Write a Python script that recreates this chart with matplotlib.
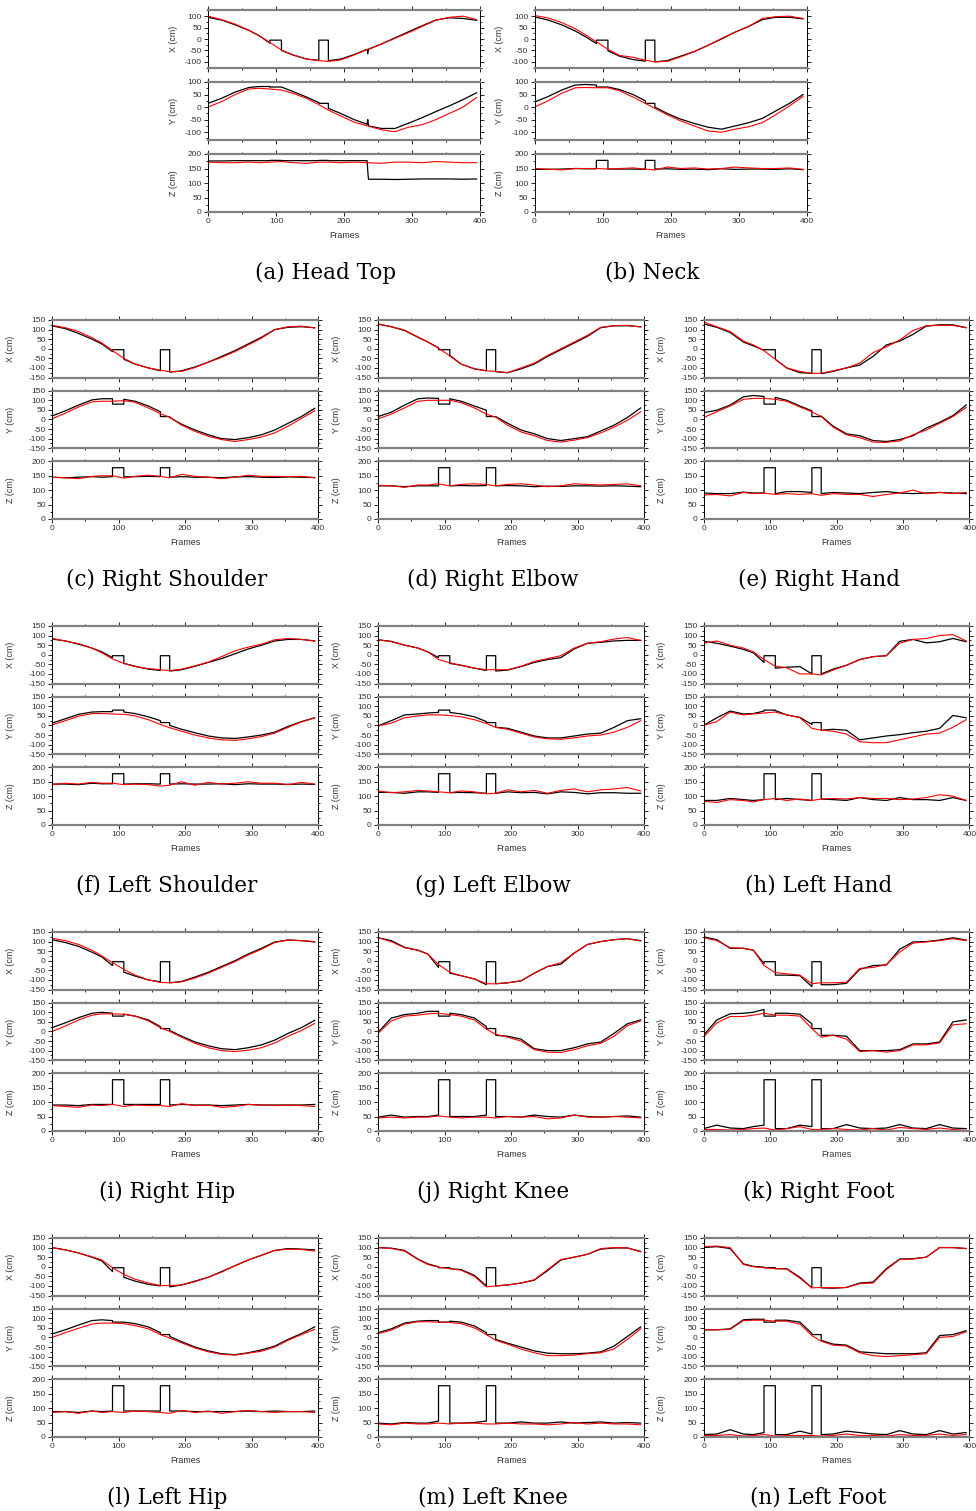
import matplotlib
matplotlib.use("Agg")
import matplotlib.pyplot as plt
from matplotlib.ticker import MultipleLocator

# 프레임 (샘플 지점) - 91~108, 163~177 은 가림(occlusion) 구간
frames = [0, 20, 40, 60, 75, 91, 108, 125, 145, 163, 177, 195, 215, 235, 255, 275, 295, 315, 335, 355, 375, 395]
# Head Top 정답(검정)은 235 근처에 튀는 값이 있어서 프레임을 따로 둠
head_top_gt_frames = [0, 20, 40, 60, 75, 91, 108, 125, 145, 163, 177, 195, 215, 234, 235, 236, 255, 275, 295, 315, 335, 355, 375, 395]

occ_start = [91, 163]
occ_end = [108, 177]
occ_x = [-5, -5]
occ_y = [80, 15]
occ_z = [178, 178]

# (a) Head Top
head_top_x_gt = [95, 83, 62, 38, 15, -18, -50, -70, -88, -93, -95, -88, -68, -45, -65, -45, -22, 5, 32, 58, 83, 93, 90, 82]
head_top_x_est = [100, 85, 65, 38, 15, -15, -48, -70, -88, -95, -98, -92, -70, -45, -22, 3, 28, 55, 82, 95, 100, 85]
head_top_y_gt = [15, 35, 60, 78, 82, 82, 80, 62, 40, 18, -5, -25, -50, -68, -50, -75, -85, -85, -64, -42, -18, 5, 30, 57]
head_top_y_est = [0, 22, 50, 72, 75, 72, 68, 55, 35, 10, -12, -35, -60, -75, -90, -98, -80, -70, -50, -25, 0, 38]
head_top_z_gt = [176, 176, 177, 177, 177, 177, 177, 177, 177, 177, 177, 177, 177, 177, 140, 113, 113, 112, 113, 114, 114, 114, 113, 114]
head_top_z_est = [172, 170, 170, 172, 170, 172, 174, 170, 168, 172, 172, 170, 172, 170, 168, 172, 172, 170, 174, 172, 170, 170]

# (b) Neck
neck_x_gt = [97, 83, 62, 35, 10, -20, -52, -75, -90, -97, -100, -95, -75, -55, -28, 0, 30, 55, 85, 95, 95, 88]
neck_x_est = [103, 92, 72, 45, 18, -12, -45, -72, -80, -93, -100, -98, -78, -55, -28, 2, 30, 55, 90, 98, 100, 90]
neck_y_gt = [20, 42, 68, 88, 90, 88, 80, 70, 50, 25, 0, -25, -48, -65, -80, -88, -75, -62, -45, -15, 15, 50]
neck_y_est = [0, 25, 55, 77, 78, 77, 77, 65, 40, 15, -5, -30, -55, -75, -95, -100, -88, -78, -62, -30, 5, 42]
neck_z_gt = [147, 147, 148, 150, 149, 149, 148, 148, 148, 147, 148, 149, 147, 148, 146, 149, 147, 148, 148, 147, 149, 146]
neck_z_est = [150, 148, 145, 150, 150, 150, 148, 150, 152, 148, 145, 155, 150, 152, 148, 150, 155, 152, 150, 150, 152, 147]

# (c) Right Shoulder
r_shoulder_x_gt = [120, 105, 80, 50, 25, -15, -55, -80, -100, -115, -122, -115, -95, -70, -40, -10, 25, 60, 100, 112, 115, 110]
r_shoulder_x_est = [122, 110, 90, 58, 30, -10, -50, -80, -100, -112, -120, -118, -98, -70, -45, -15, 20, 55, 100, 115, 118, 108]
r_shoulder_y_gt = [18, 45, 75, 102, 108, 108, 105, 95, 70, 40, 10, -25, -55, -80, -100, -105, -95, -80, -55, -20, 15, 58]
r_shoulder_y_est = [3, 33, 65, 92, 95, 95, 98, 90, 60, 30, 12, -30, -62, -88, -105, -115, -105, -92, -70, -35, 5, 45]
r_shoulder_z_gt = [145, 143, 145, 147, 145, 147, 146, 147, 148, 147, 145, 147, 145, 145, 143, 146, 147, 145, 144, 146, 145, 144]
r_shoulder_z_est = [145, 143, 140, 148, 150, 150, 142, 148, 152, 148, 143, 155, 148, 145, 140, 145, 152, 148, 148, 147, 148, 143]

# (d) Right Elbow
r_elbow_x_gt = [128, 115, 95, 60, 35, 5, -35, -80, -105, -115, -120, -125, -105, -80, -40, -5, 30, 65, 110, 120, 120, 115]
r_elbow_x_est = [130, 115, 97, 62, 35, 3, -38, -80, -105, -115, -118, -125, -100, -75, -35, 0, 35, 70, 112, 120, 122, 113]
r_elbow_y_gt = [15, 38, 75, 108, 112, 110, 108, 95, 70, 48, 15, -20, -55, -75, -100, -110, -100, -90, -60, -30, 10, 60]
r_elbow_y_est = [3, 28, 60, 95, 100, 100, 100, 88, 60, 28, 12, -30, -65, -85, -110, -118, -108, -95, -70, -40, -5, 40]
r_elbow_z_gt = [115, 115, 112, 115, 115, 115, 115, 116, 115, 116, 115, 116, 115, 112, 114, 113, 115, 115, 114, 115, 114, 112]
r_elbow_z_est = [117, 115, 110, 118, 118, 122, 115, 120, 122, 120, 115, 120, 122, 118, 112, 115, 122, 120, 118, 120, 122, 115]

# (e) Right Hand
r_hand_x_gt = [130, 112, 85, 35, 15, -8, -55, -100, -125, -128, -130, -118, -100, -85, -40, 20, 40, 75, 118, 125, 125, 110]
r_hand_x_est = [140, 115, 90, 40, 20, -10, -55, -100, -118, -128, -128, -115, -100, -75, -20, 10, 45, 95, 120, 122, 122, 110]
r_hand_y_gt = [35, 48, 75, 118, 125, 120, 115, 100, 70, 45, 18, -35, -75, -85, -110, -115, -105, -85, -45, -15, 20, 75]
r_hand_y_est = [10, 40, 70, 105, 110, 110, 105, 95, 65, 40, 15, -40, -80, -95, -118, -120, -112, -80, -55, -20, 15, 62]
r_hand_z_gt = [90, 88, 88, 93, 90, 90, 88, 95, 95, 92, 88, 92, 90, 88, 92, 95, 90, 88, 90, 92, 90, 88]
r_hand_z_est = [83, 85, 80, 92, 88, 90, 85, 88, 85, 88, 82, 88, 85, 85, 78, 85, 90, 100, 88, 92, 88, 92]

# (f) Left Shoulder
l_shoulder_x_gt = [82, 72, 55, 35, 15, -15, -45, -60, -75, -82, -85, -78, -60, -40, -20, 5, 30, 50, 72, 80, 80, 72]
l_shoulder_x_est = [85, 72, 58, 35, 10, -22, -45, -62, -72, -78, -83, -75, -58, -38, -10, 20, 40, 55, 78, 85, 80, 72]
l_shoulder_y_gt = [12, 35, 58, 70, 72, 72, 70, 62, 45, 25, 0, -20, -38, -55, -65, -68, -60, -50, -35, -5, 20, 40]
l_shoulder_y_est = [3, 25, 48, 62, 62, 60, 58, 50, 30, 5, -12, -30, -50, -65, -75, -78, -70, -58, -40, -10, 18, 40]
l_shoulder_z_gt = [142, 142, 140, 145, 143, 143, 142, 143, 143, 142, 142, 143, 142, 142, 143, 140, 143, 142, 142, 141, 142, 141]
l_shoulder_z_est = [140, 145, 142, 148, 145, 145, 140, 142, 140, 135, 138, 150, 138, 148, 142, 145, 150, 145, 145, 140, 148, 142]

# (g) Left Elbow
l_elbow_x_gt = [78, 70, 50, 35, 15, -15, -45, -55, -70, -82, -85, -80, -62, -40, -25, -15, 30, 60, 65, 72, 75, 75]
l_elbow_x_est = [78, 68, 50, 35, 15, -25, -42, -55, -70, -78, -78, -78, -60, -35, -20, -5, 35, 60, 68, 82, 90, 75]
l_elbow_y_gt = [-2, 25, 55, 60, 65, 68, 68, 60, 45, 20, -10, -15, -35, -55, -65, -65, -55, -45, -40, -10, 25, 35]
l_elbow_y_est = [-3, 12, 40, 50, 55, 55, 52, 45, 30, 10, -10, -20, -40, -60, -70, -72, -65, -55, -50, -35, -10, 25]
l_elbow_z_gt = [113, 113, 110, 115, 115, 113, 112, 113, 112, 110, 110, 115, 112, 113, 108, 115, 113, 108, 112, 112, 110, 110]
l_elbow_z_est = [118, 112, 115, 120, 118, 115, 112, 118, 115, 108, 110, 122, 115, 120, 110, 120, 125, 115, 122, 125, 130, 118]

# (h) Left Hand
l_hand_x_gt = [70, 60, 45, 28, 10, -40, -70, -65, -62, -100, -100, -75, -55, -25, -10, -5, 70, 80, 62, 68, 85, 68]
l_hand_x_est = [60, 72, 50, 35, 15, -25, -60, -68, -100, -100, -105, -80, -55, -25, -10, -5, 60, 80, 85, 100, 105, 72]
l_hand_y_gt = [0, 40, 75, 60, 62, 75, 78, 55, 42, 5, -25, -20, -25, -75, -65, -55, -48, -38, -30, -15, 52, 40]
l_hand_y_est = [0, 20, 70, 55, 60, 65, 70, 55, 40, -15, -25, -30, -45, -85, -90, -90, -75, -60, -45, -40, -10, 30]
l_hand_z_gt = [85, 85, 92, 88, 85, 88, 88, 92, 88, 85, 90, 88, 85, 95, 88, 85, 95, 88, 88, 85, 95, 85]
l_hand_z_est = [82, 78, 88, 85, 80, 88, 92, 85, 90, 85, 90, 92, 90, 95, 92, 92, 88, 90, 95, 105, 100, 85]

# (i) Right Hip
r_hip_x_gt = [110, 95, 75, 45, 20, -25, -60, -80, -100, -110, -115, -108, -85, -60, -30, 0, 35, 65, 98, 108, 105, 98]
r_hip_x_est = [117, 105, 85, 55, 25, -10, -45, -75, -100, -113, -115, -110, -90, -65, -35, -5, 30, 60, 95, 108, 105, 100]
r_hip_y_gt = [20, 45, 72, 95, 100, 95, 90, 80, 60, 25, 5, -25, -55, -75, -90, -95, -85, -70, -45, -10, 20, 58]
r_hip_y_est = [0, 28, 60, 85, 92, 92, 90, 80, 55, 20, 0, -30, -62, -85, -100, -105, -98, -85, -60, -25, 5, 42]
r_hip_z_gt = [90, 90, 88, 92, 92, 92, 92, 92, 92, 92, 90, 92, 90, 90, 88, 90, 92, 90, 90, 90, 90, 92]
r_hip_z_est = [88, 85, 82, 90, 88, 92, 85, 90, 88, 88, 85, 95, 88, 90, 82, 85, 92, 90, 88, 90, 88, 85]

# (j) Right Knee
r_knee_x_gt = [120, 105, 70, 55, 35, -35, -65, -78, -95, -125, -120, -115, -105, -65, -30, -18, 40, 85, 100, 110, 115, 105]
r_knee_x_est = [120, 100, 68, 55, 35, -20, -60, -78, -95, -120, -120, -115, -105, -65, -30, -10, 40, 85, 100, 110, 115, 103]
r_knee_y_gt = [-5, 70, 88, 95, 105, 105, 95, 88, 70, 25, -20, -25, -40, -90, -100, -100, -85, -65, -55, -10, 40, 60]
r_knee_y_est = [-10, 55, 80, 85, 92, 95, 88, 80, 60, 12, -15, -30, -50, -95, -108, -110, -95, -75, -62, -25, 30, 55]
r_knee_z_gt = [48, 55, 48, 50, 50, 55, 50, 50, 50, 55, 50, 50, 48, 55, 50, 48, 55, 50, 48, 50, 52, 48]
r_knee_z_est = [45, 48, 45, 48, 48, 52, 48, 45, 48, 48, 45, 50, 48, 50, 42, 45, 55, 48, 48, 50, 48, 45]

# (k) Right Foot
r_foot_x_gt = [125, 110, 65, 65, 55, -15, -75, -75, -78, -135, -125, -125, -118, -45, -25, -22, 60, 98, 100, 108, 120, 108]
r_foot_x_est = [120, 105, 68, 65, 55, -25, -62, -68, -75, -120, -115, -115, -112, -40, -35, -20, 45, 92, 98, 105, 115, 105]
r_foot_y_gt = [-20, 60, 92, 95, 100, 115, 95, 95, 90, 40, -20, -20, -25, -100, -100, -100, -95, -65, -65, -55, 50, 60]
r_foot_y_est = [-30, 45, 78, 78, 85, 95, 85, 85, 80, 15, -30, -20, -40, -105, -100, -108, -100, -70, -70, -60, 35, 40]
r_foot_z_gt = [8, 20, 10, 8, 15, 20, 8, 8, 20, 15, 8, 8, 22, 10, 8, 10, 22, 10, 8, 22, 10, 8]
r_foot_z_est = [5, 5, 3, 5, 8, 10, 3, 8, 15, 5, 5, 8, 5, 3, 8, 3, 12, 8, 5, 10, 5, 2]

# (l) Left Hip
l_hip_x_gt = [100, 88, 72, 50, 30, -25, -55, -75, -92, -100, -105, -95, -75, -55, -25, 5, 35, 60, 85, 95, 92, 88]
l_hip_x_est = [100, 88, 72, 52, 35, -5, -40, -65, -85, -98, -98, -95, -78, -55, -28, 5, 35, 60, 85, 92, 90, 82]
l_hip_y_gt = [18, 40, 65, 88, 92, 88, 80, 72, 55, 25, 5, -22, -50, -70, -85, -90, -80, -65, -45, -10, 20, 55]
l_hip_y_est = [0, 25, 48, 70, 75, 75, 72, 62, 45, 15, -3, -28, -55, -75, -88, -92, -82, -72, -50, -15, 15, 42]
l_hip_z_gt = [88, 88, 85, 90, 88, 90, 90, 90, 90, 90, 90, 90, 88, 88, 88, 88, 90, 88, 90, 88, 88, 90]
l_hip_z_est = [85, 88, 82, 90, 85, 88, 85, 90, 88, 85, 82, 92, 85, 90, 82, 88, 92, 88, 85, 88, 88, 85]

# (m) Left Knee
l_knee_x_gt = [100, 97, 85, 40, 15, 0, -10, -15, -45, -100, -100, -95, -85, -70, -20, 35, 50, 65, 92, 98, 98, 80]
l_knee_x_est = [100, 95, 82, 38, 12, -2, -10, -18, -50, -105, -100, -95, -85, -68, -15, 38, 50, 65, 95, 100, 98, 78]
l_knee_y_gt = [25, 45, 75, 85, 88, 88, 85, 80, 60, 25, -10, -30, -50, -70, -82, -85, -85, -82, -75, -45, 5, 55]
l_knee_y_est = [20, 38, 70, 82, 82, 80, 78, 72, 50, 15, -15, -35, -60, -80, -95, -95, -92, -85, -80, -60, -10, 45]
l_knee_z_gt = [48, 45, 50, 48, 48, 55, 48, 48, 50, 55, 48, 48, 52, 48, 48, 52, 48, 50, 52, 48, 50, 48]
l_knee_z_est = [45, 42, 48, 45, 45, 48, 45, 48, 48, 45, 45, 48, 45, 45, 42, 45, 50, 45, 48, 45, 45, 42]

# (n) Left Foot
l_foot_x_gt = [100, 105, 95, 15, 2, -2, -10, -10, -55, -110, -110, -112, -108, -85, -80, -10, 40, 42, 50, 100, 100, 95]
l_foot_x_est = [105, 108, 100, 12, 0, -5, -10, -12, -60, -110, -108, -110, -108, -88, -85, -15, 38, 40, 50, 100, 100, 95]
l_foot_y_gt = [40, 40, 45, 92, 95, 95, 90, 90, 80, 20, -15, -35, -40, -75, -80, -85, -85, -85, -80, 10, 15, 35]
l_foot_y_est = [40, 40, 42, 88, 90, 90, 85, 85, 70, 10, -20, -40, -45, -80, -95, -100, -95, -90, -85, 0, 5, 30]
l_foot_z_gt = [8, 10, 25, 10, 8, 15, 8, 8, 20, 10, 8, 10, 20, 15, 10, 8, 22, 10, 8, 22, 10, 15]
l_foot_z_est = [5, 5, 8, 3, 5, 8, 3, 5, 5, 5, 3, 5, 10, 5, 5, 3, 8, 5, 5, 10, 5, 8]

captions = ["(a) Head Top", "(b) Neck", "(c) Right Shoulder", "(d) Right Elbow", "(e) Right Hand",
            "(f) Left Shoulder", "(g) Left Elbow", "(h) Left Hand", "(i) Right Hip", "(j) Right Knee",
            "(k) Right Foot", "(l) Left Hip", "(m) Left Knee", "(n) Left Foot"]

joints = [
    (head_top_x_gt, head_top_x_est, head_top_y_gt, head_top_y_est, head_top_z_gt, head_top_z_est),
    (neck_x_gt, neck_x_est, neck_y_gt, neck_y_est, neck_z_gt, neck_z_est),
    (r_shoulder_x_gt, r_shoulder_x_est, r_shoulder_y_gt, r_shoulder_y_est, r_shoulder_z_gt, r_shoulder_z_est),
    (r_elbow_x_gt, r_elbow_x_est, r_elbow_y_gt, r_elbow_y_est, r_elbow_z_gt, r_elbow_z_est),
    (r_hand_x_gt, r_hand_x_est, r_hand_y_gt, r_hand_y_est, r_hand_z_gt, r_hand_z_est),
    (l_shoulder_x_gt, l_shoulder_x_est, l_shoulder_y_gt, l_shoulder_y_est, l_shoulder_z_gt, l_shoulder_z_est),
    (l_elbow_x_gt, l_elbow_x_est, l_elbow_y_gt, l_elbow_y_est, l_elbow_z_gt, l_elbow_z_est),
    (l_hand_x_gt, l_hand_x_est, l_hand_y_gt, l_hand_y_est, l_hand_z_gt, l_hand_z_est),
    (r_hip_x_gt, r_hip_x_est, r_hip_y_gt, r_hip_y_est, r_hip_z_gt, r_hip_z_est),
    (r_knee_x_gt, r_knee_x_est, r_knee_y_gt, r_knee_y_est, r_knee_z_gt, r_knee_z_est),
    (r_foot_x_gt, r_foot_x_est, r_foot_y_gt, r_foot_y_est, r_foot_z_gt, r_foot_z_est),
    (l_hip_x_gt, l_hip_x_est, l_hip_y_gt, l_hip_y_est, l_hip_z_gt, l_hip_z_est),
    (l_knee_x_gt, l_knee_x_est, l_knee_y_gt, l_knee_y_est, l_knee_z_gt, l_knee_z_est),
    (l_foot_x_gt, l_foot_x_est, l_foot_y_gt, l_foot_y_est, l_foot_z_gt, l_foot_z_est),
]


def with_occlusion(fr, vals, levels):
    # 가림 구간에서는 정답 값이 상수(levels)로 바뀜
    xs, ys = [], []
    for f, v in zip(fr, vals):
        if f in occ_start:
            i = occ_start.index(f)
            xs += [f, f]
            ys += [v, levels[i]]
        elif f in occ_end:
            i = occ_end.index(f)
            xs += [f, f]
            ys += [levels[i], v]
        else:
            xs.append(f)
            ys.append(v)
    return xs, ys


W, H = 976, 1511
plt.rcParams["font.family"] = ["Liberation Sans", "DejaVu Sans"]
plt.rcParams["axes.unicode_minus"] = False
fig = plt.figure(figsize=(W / 100, H / 100), dpi=100)


def box(left, top, w, h):
    return [left / W, 1 - (top + h) / H, w / W, h / H]


# 패널 위치 (픽셀)
panel_pos = [(208, 10, 272, 58, 72), (534.5, 10, 272, 58, 72)]
for top in [320, 626, 932, 1238]:
    for left in [52, 378, 703.5]:
        panel_pos.append((left, top, 266, 57.5, 70.7))

for k, (left, top, w, h, step) in enumerate(panel_pos):
    data = joints[k]
    first_row = k < 2
    gt_fr = head_top_gt_frames if k == 0 else frames
    for j, (name, levels) in enumerate([("X", occ_x), ("Y", occ_y), ("Z", occ_z)]):
        ax = fig.add_axes(box(left, top + j * step, w, h))
        gx, gy = with_occlusion(gt_fr, data[2 * j], levels)
        ax.plot(gx, gy, color="black", lw=0.9)
        ax.plot(frames, data[2 * j + 1], color="red", lw=0.8)

        ax.set_xlim(0, 400)
        if name == "Z":
            ax.set_ylim(0, 200)
        elif first_row:
            ax.set_ylim(-127, 127) if name == "X" else ax.set_ylim(-131, 100)
        else:
            ax.set_ylim(-150, 150)
        ax.yaxis.set_major_locator(MultipleLocator(50))
        ax.yaxis.set_minor_locator(MultipleLocator(25))
        ax.xaxis.set_major_locator(MultipleLocator(100))
        ax.xaxis.set_minor_locator(MultipleLocator(50))
        ax.tick_params(which="both", direction="out", top=True, right=True,
                       labelsize=6, pad=1.5, width=0.6, labelcolor="#333333")
        ax.tick_params(which="major", length=3)
        ax.tick_params(which="minor", length=1.5)
        ax.tick_params(axis="x", labelbottom=(name == "Z"))
        for s in ["top", "bottom"]:
            ax.spines[s].set_color("#808080")
            ax.spines[s].set_linewidth(1.6)
        for s in ["left", "right"]:
            ax.spines[s].set_linewidth(0.7)

        ax.set_ylabel(f"{name} (cm)", fontsize=6.4, color="#333333")
        ax.yaxis.set_label_coords(-(30 if first_row else 37) / w, 0.5)
        if name == "Z":
            ax.set_xlabel("Frames", fontsize=6.4, color="#333333")
            ax.xaxis.set_label_coords(0.5, -19 / h)

    z_bottom = top + 2 * step + h
    fig.text((left + w / 2 - 18) / W, 1 - (z_bottom + 61) / H, captions[k],
             family="DejaVu Serif", fontsize=15.5, ha="center", va="center")

fig.savefig("out.png", dpi=100)
